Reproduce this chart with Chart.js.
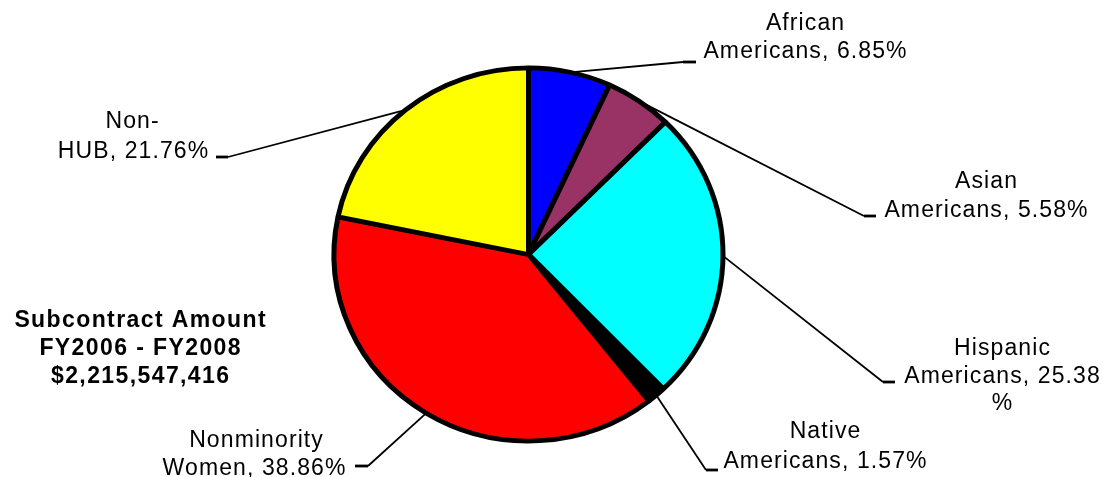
<!DOCTYPE html>
<html><head><meta charset="utf-8">
<script src="https://cdn.jsdelivr.net/npm/chart.js@4"></script>
<style>html,body{margin:0;padding:0;background:#fff;overflow:hidden}#wrap{width:1105px;height:477px;position:relative}canvas{display:block}</style>
</head><body><div id="wrap"><canvas id="c" width="1105" height="477"></canvas></div>
<script>
// ---- data ----
const categories = ['African Americans', 'Asian Americans', 'Hispanic Americans', 'Native Americans', 'Nonminority Women', 'Non-HUB'];
const shares = [6.85, 5.58, 25.38, 1.57, 38.86, 21.76];
const sliceColors = ['#0000FF', '#993366', '#00FFFF', '#000000', '#FF0000', '#FFFF00'];
const labelLines = [
  ['African', 'Americans, 6.85%'],
  ['Asian', 'Americans, 5.58%'],
  ['Hispanic', 'Americans, 25.38', '%'],
  ['Native', 'Americans, 1.57%'],
  ['Nonminority', 'Women, 38.86%'],
  ['Non-', 'HUB, 21.76%']
];
const titleLines = ['Subcontract Amount', 'FY2006 - FY2008', '$2,215,547,416'];

// ---- layout (positions / styles) ----
const SY = 0.959; // vertical squash of the pie (reference pie is slightly elliptical)
const FONT = '"Liberation Sans", Arial, sans-serif';
const LS = 1.1;
const labelLayout = [
  { xs: [805, 805], ys: [30, 58], elbow: [683, 62], end: [696, 62] },
  { xs: [986, 986], ys: [188, 217], elbow: [864, 216], end: [876, 216] },
  { xs: [1002, 1002, 1002], ys: [355, 383, 410], elbow: [883, 382], end: [895, 382] },
  { xs: [825, 825], ys: [438, 468], elbow: [706, 470], end: [718, 470] },
  { xs: [256, 254], ys: [447, 475], elbow: [368, 466], end: [355, 466] },
  { xs: [132, 133], ys: [128, 158], elbow: [228, 157], end: [216, 157] }
];
const titleLayout = { x: 140, ys: [327, 355, 383] };

function drawText(ctx, text, cx, y, font, ls) {
  ctx.font = font;
  ctx.letterSpacing = ls + 'px';
  const w = ctx.measureText(text).width - ls;
  ctx.textAlign = 'left';
  ctx.textBaseline = 'alphabetic';
  ctx.fillText(text, cx - w / 2, y);
}

const squash = {
  id: 'squash',
  beforeDatasetsDraw(chart) {
    const a = chart.getDatasetMeta(0).data[0];
    const ctx = chart.ctx;
    ctx.save();
    ctx.translate(a.x, a.y);
    ctx.scale(1, SY);
    ctx.translate(-a.x, -a.y);
  },
  afterDatasetsDraw(chart) { chart.ctx.restore(); }
};

const labels = {
  id: 'labels',
  afterDraw(chart) {
    const ctx = chart.ctx;
    const arcs = chart.getDatasetMeta(0).data;
    ctx.save();
    ctx.strokeStyle = '#000';
    ctx.fillStyle = '#000';
    ctx.lineCap = 'butt';
    arcs.forEach((arc, i) => {
      const L = labelLayout[i];
      const mid = (arc.startAngle + arc.endAngle) / 2;
      const r = arc.outerRadius;
      const sx = arc.x + Math.cos(mid) * r;
      const sy = arc.y + Math.sin(mid) * r * SY;
      ctx.lineWidth = 1.8;
      ctx.beginPath();
      ctx.moveTo(sx, sy);
      ctx.lineTo(L.elbow[0], L.elbow[1]);
      ctx.stroke();
      ctx.lineWidth = 2.8;
      ctx.beginPath();
      ctx.moveTo(L.elbow[0], L.elbow[1]);
      ctx.lineTo(L.end[0], L.end[1]);
      ctx.stroke();
      labelLines[i].forEach((t, j) => drawText(ctx, t, L.xs[j], L.ys[j], '23px ' + FONT, LS));
    });
    titleLines.forEach((t, j) => drawText(ctx, t, titleLayout.x, titleLayout.ys[j], 'bold 23px ' + FONT, 1.4));
    ctx.restore();
  }
};

new Chart(document.getElementById('c'), {
  type: 'pie',
  data: {
    labels: categories,
    datasets: [{
      data: shares,
      backgroundColor: sliceColors,
      borderColor: '#000000',
      borderWidth: 5,
      hoverOffset: 0,
      radius: 194.5,
      clip: false
    }]
  },
  options: {
    responsive: false,
    devicePixelRatio: 1,
    animation: false,
    layout: { padding: { left: 0, right: 48, top: 32, bottom: 0 } },
    plugins: { legend: { display: false }, tooltip: { enabled: false }, title: { display: false } },
    events: []
  },
  plugins: [squash, labels]
});
</script>
</body></html>
